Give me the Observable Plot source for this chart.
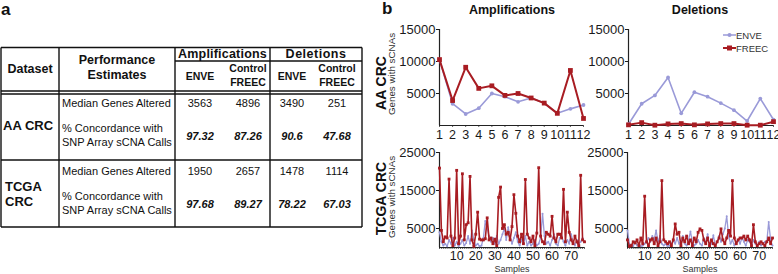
<!DOCTYPE html>
<html><head><meta charset="utf-8">
<script src="https://cdn.jsdelivr.net/npm/d3@7"></script>
<script src="https://cdn.jsdelivr.net/npm/@observablehq/plot@0.6"></script>
<style>
html,body{margin:0;padding:0;background:#fff;}
#root{position:relative;width:778px;height:274px;overflow:hidden;font-family:"Liberation Sans",Arial,Helvetica,sans-serif;}
.abs{position:absolute;}
</style></head><body>
<div id="root"></div>
<script>
const FONT = '"Liberation Sans", Arial, Helvetica, sans-serif';
const ENVE_COLOR = "#9a9ad8";
const FREEC_COLOR = "#a81c22";

// ---- Panel a: table data ----
const datasets = ["AA CRC", "TCGA CRC"];
const groupHeaders = ["Amplifications", "Deletions"];
const methodHeaders = ["ENVE", "Control FREEC", "ENVE", "Control FREEC"];
const estimateLabels = ["Median Genes Altered", "% Concordance with SNP Array sCNA Calls"];
const medianGenes = [[3563, 4896, 3490, 251], [1950, 2657, 1478, 1114]];
const concordance = [["97.32", "87.26", "90.6", "47.68"], ["97.68", "89.27", "78.22", "67.03"]];

// ---- Panel b: AA CRC (12 samples) ----
const aaSamples = [1, 2, 3, 4, 5, 6, 7, 8, 9, 10, 11, 12];
const aaAmpENVE  = [10300, 3400, 1800, 2700, 5000, 4500, 3700, 4300, 3500, 1900, 2600, 3200];
const aaAmpFREEC = [10300, 3900, 9100, 5800, 6200, 4700, 5000, 4300, 3500, 1900, 8600, 1100];
const aaDelENVE  = [200, 3400, 4700, 7500, 1900, 5200, 4500, 3500, 2400, 700, 4200, 900];
const aaDelFREEC = [100, 450, 50, 250, 300, 100, 250, 300, 300, 50, 50, 600];
const aaYTicks = [5000, 10000, 15000];

// ---- Panel b: TCGA CRC (77 samples) ----
const tcgaSamples = d3.range(1, 78);
const tcgaAmpFREEC = [20900,4500,1500,2800,2500,18000,3000,500,2500,20300,1000,3000,19400,2000,6000,6500,18700,2000,300,3500,
  9300,2200,2000,2000,2300,7800,2000,2500,1000,2200,500,13200,15900,5000,6000,3500,4000,2000,5500,13900,
  9000,3000,1500,3500,1000,17900,3500,2500,1500,3000,500,3800,21000,3000,1500,1000,4000,3500,3000,8200,
  2500,1500,3500,3500,2500,15300,1500,9300,4000,2000,1000,3000,1500,500,19000,2000,1500];
const tcgaAmpENVE = [4000,1500,500,1000,300,2000,1000,2500,500,1500,300,1000,2000,500,1200,3000,1000,4500,2000,500,
  1000,300,500,2500,7000,5000,3000,1500,2500,1000,3000,1000,2000,3500,5000,2000,5300,3000,1000,2500,
  4000,1500,500,2000,1000,3000,500,1500,500,1000,2000,500,1000,2500,8900,3000,1000,1500,500,2000,
  3500,1000,500,2500,3000,1500,500,2000,1000,3500,1500,500,2000,1000,1500,2500,1500];
const tcgaDelFREEC = [2000,300,500,1500,1200,2000,500,2500,1000,13500,1500,500,2000,2300,1000,2500,500,1500,17600,2000,
  1500,1000,1500,500,2000,6200,3500,4000,500,2500,1500,3000,1000,2000,500,2500,1500,4000,4900,4500,
  2000,1000,2500,500,2000,1000,500,1500,2500,4900,2000,1000,2500,4500,3000,17600,2500,1000,2000,2500,
  2500,3000,2000,3000,2000,500,6000,1500,500,1000,1500,1000,500,1500,2500,1000,2500];
const tcgaDelENVE = [4500,1000,500,300,1500,500,1000,300,500,1000,1500,2500,1500,3000,2000,4500,1500,3000,1000,500,
  1000,300,500,1000,2000,1000,2500,1000,1500,3000,1000,500,2000,4200,1500,500,1000,2000,1000,500,
  2500,1000,3500,500,1000,3200,500,1500,3000,1500,3500,5000,8200,3000,1000,2000,500,1500,2000,1000,
  2500,1500,500,2000,1500,500,2000,1000,500,1500,500,1000,1500,1500,6700,2000,500];
const tcgaYTicks = [5000, 15000, 25000];
const tcgaXTicks = [10, 20, 30, 40, 50, 60, 70];

const root = document.getElementById("root");

// ---------- overlay SVG (table + text) ----------
const svg = d3.select(root).append("svg").attr("class", "abs")
  .attr("width", 778).attr("height", 274).style("left", "0px").style("top", "0px")
  .style("font-family", FONT);

function txt(x, y, s, o = {}) {
  const t = svg.append("text").attr("x", x).attr("y", y).text(s)
    .attr("font-size", o.size || 11).attr("fill", o.fill || "#111")
    .attr("text-anchor", o.anchor || "start");
  if (o.bold) t.attr("font-weight", "bold");
  if (o.italic) t.attr("font-style", "italic");
  if (o.ls) t.attr("letter-spacing", o.ls);
  if (o.rotate) t.attr("transform", `rotate(-90 ${x} ${y})`);
  return t;
}
function hline(x1, x2, y, w = 1.4) {
  svg.append("line").attr("x1", x1).attr("x2", x2).attr("y1", y).attr("y2", y).attr("stroke", "#111").attr("stroke-width", w);
}
function vline(x, y1, y2, w = 1.4) {
  svg.append("line").attr("x1", x).attr("x2", x).attr("y1", y1).attr("y2", y2).attr("stroke", "#111").attr("stroke-width", w);
}

// panel letters
txt(1, 15, "a", {size: 17, bold: true});
txt(382, 14, "b", {size: 17, bold: true});

// table grid
const colX = [1, 59, 175, 270, 362];
const valueCenters = [200, 248, 292, 337];
hline(1, 362, 47.5);
hline(175, 362, 61);
hline(1, 362, 91);
hline(1, 362, 94);
hline(1, 362, 160);
hline(1, 362, 227);
colX.forEach(x => vline(x, 47.5, 227));

// header
txt(30, 72.5, "Dataset", {size: 12.5, bold: true, anchor: "middle"});
txt(117, 64, "Performance", {size: 12.5, bold: true, anchor: "middle"});
txt(117, 79, "Estimates", {size: 12.5, bold: true, anchor: "middle"});
txt(222.5, 58, groupHeaders[0], {size: 12.5, bold: true, anchor: "middle", ls: 0.2});
txt(316, 58, groupHeaders[1], {size: 12.5, bold: true, anchor: "middle", ls: 0.5});
methodHeaders.forEach((h, i) => {
  const parts = h.split(" ");
  if (parts.length === 1) txt(valueCenters[i], 80, h, {size: 10.5, bold: true, anchor: "middle"});
  else {
    txt(valueCenters[i], 72, parts[0], {size: 10.5, bold: true, anchor: "middle"});
    txt(valueCenters[i], 86, parts[1], {size: 10.5, bold: true, anchor: "middle"});
  }
});

// rows
const rowBase = [0, 68];
datasets.forEach((ds, r) => {
  const o = rowBase[r];
  if (r === 0) txt(3, 130, ds, {size: 13, bold: true});
  else { const p = ds.split(" "); txt(5, 191, p[0], {size: 13, bold: true}); txt(5, 206, p[1], {size: 13, bold: true}); }
  txt(62, 107 + o, estimateLabels[0], {size: 11});
  const words = estimateLabels[1].split(" ");
  txt(62, 132 + o, words.slice(0, 3).join(" "), {size: 11});
  txt(62, 145.5 + o, words.slice(3).join(" "), {size: 11});
  medianGenes[r].forEach((v, i) => txt(valueCenters[i], 107 + o, String(v), {size: 11, anchor: "middle"}));
  concordance[r].forEach((v, i) => txt(valueCenters[i], 140 + o, v, {size: 11, bold: true, italic: true, anchor: "middle"}));
});

// panel b titles and labels
txt(512, 14, "Amplifications", {size: 12.5, bold: true, anchor: "middle"});
txt(700, 14, "Deletions", {size: 12.5, bold: true, anchor: "middle"});
txt(385.5, 83, "AA CRC", {size: 14, bold: true, anchor: "middle", rotate: true});
txt(394.5, 74, "Genes with sCNAs", {size: 9.8, fill: "#333", anchor: "middle", rotate: true});
txt(385.5, 198.5, "TCGA CRC", {size: 14, bold: true, anchor: "middle", rotate: true});
txt(394.5, 197, "Genes with sCNAs", {size: 9.8, fill: "#333", anchor: "middle", rotate: true});
txt(512, 272, "Samples", {size: 9, fill: "#333", anchor: "middle"});
txt(700, 272, "Samples", {size: 9, fill: "#333", anchor: "middle"});

// legend
const legendItems = [{name: "ENVE", color: ENVE_COLOR, sq: false, y: 35}, {name: "FREEC", color: FREEC_COLOR, sq: true, y: 48}];
legendItems.forEach(it => {
  svg.append("line").attr("x1", 723).attr("x2", 736).attr("y1", it.y).attr("y2", it.y).attr("stroke", it.color).attr("stroke-width", it.sq ? 2 : 1.5);
  if (it.sq) svg.append("rect").attr("x", 727).attr("y", it.y - 2.5).attr("width", 5).attr("height", 5).attr("fill", it.color);
  else svg.append("circle").attr("cx", 729.5).attr("cy", it.y).attr("r", 2).attr("fill", it.color);
  txt(736, it.y + 3.5, it.name, {size: 9.5, fill: "#333"});
});

// ---------- charts ----------
function lineChart(o) {
  const enveData = o.samples.map((s, i) => ({s, v: o.enve[i]}));
  const freecData = o.samples.map((s, i) => ({s, v: o.freec[i]}));
  const x0 = o.samples[0], x1 = o.samples[o.samples.length - 1];
  const plot = Plot.plot({
    width: o.width, height: o.height,
    marginLeft: o.ml, marginRight: o.mr, marginTop: o.mt, marginBottom: o.mb,
    style: {background: "transparent", fontFamily: FONT, fontSize: "12.5px", color: "#1a1a1a", overflow: "visible"},
    x: {domain: [x0, x1], ticks: o.xTicks, tickFormat: d => String(d), tickSize: 0, tickPadding: o.xPad, label: null},
    y: {domain: [0, o.yMax], ticks: o.yTicks, tickFormat: d => String(d), tickSize: 3, tickPadding: 1, label: null},
    marks: [
      Plot.ruleY([0], {x1: x0, x2: x1, stroke: "#222", strokeWidth: 1.2}),
      Plot.ruleX(o.samples, {x: d => d, y1: 0, y2: -o.yMax * 0.02, stroke: "#222", strokeWidth: 0.8}),
      Plot.ruleX([x0], {y1: 0, y2: o.yMax, stroke: "#222", strokeWidth: 1.2}),
      Plot.line(enveData, {x: "s", y: "v", stroke: ENVE_COLOR, strokeWidth: o.big ? 1.6 : 1.3}),
      Plot.dot(enveData, {x: "s", y: "v", r: o.big ? 1.9 : 1, fill: ENVE_COLOR}),
      Plot.line(freecData, {x: "s", y: "v", stroke: FREEC_COLOR, strokeWidth: o.big ? 2 : 1.6}),
      Plot.dot(freecData, {x: "s", y: "v", r: o.big ? 2.7 : 1.6, symbol: "square", fill: FREEC_COLOR})
    ]
  });
  plot.querySelectorAll('[aria-label="y-axis tick label"] text, g[aria-label="y-axis"] text').forEach(t => t.setAttribute("font-size", "13px"));
  const div = document.createElement("div");
  div.className = "abs";
  div.style.left = o.left + "px";
  div.style.top = o.top + "px";
  div.appendChild(plot);
  root.appendChild(div);
}

lineChart({samples: aaSamples, enve: aaAmpENVE, freec: aaAmpFREEC, xTicks: aaSamples, yTicks: aaYTicks, yMax: 15000,
  left: 389, top: 15, width: 200, height: 140, ml: 50, mr: 6, mt: 14, mb: 30, xPad: 5, big: true});
lineChart({samples: aaSamples, enve: aaDelENVE, freec: aaDelFREEC, xTicks: aaSamples, yTicks: aaYTicks, yMax: 15000,
  left: 578, top: 15, width: 200, height: 140, ml: 50, mr: 5, mt: 14, mb: 30, xPad: 5, big: true});
lineChart({samples: tcgaSamples, enve: tcgaAmpENVE, freec: tcgaAmpFREEC, xTicks: tcgaXTicks, yTicks: tcgaYTicks, yMax: 25000,
  left: 389, top: 140, width: 200, height: 134, ml: 50, mr: 5, mt: 12, mb: 27, xPad: 4, big: false});
lineChart({samples: tcgaSamples, enve: tcgaDelENVE, freec: tcgaDelFREEC, xTicks: tcgaXTicks, yTicks: tcgaYTicks, yMax: 25000,
  left: 577, top: 140, width: 200, height: 134, ml: 50, mr: 5, mt: 12, mb: 27, xPad: 4, big: false});
</script>
</body></html>
